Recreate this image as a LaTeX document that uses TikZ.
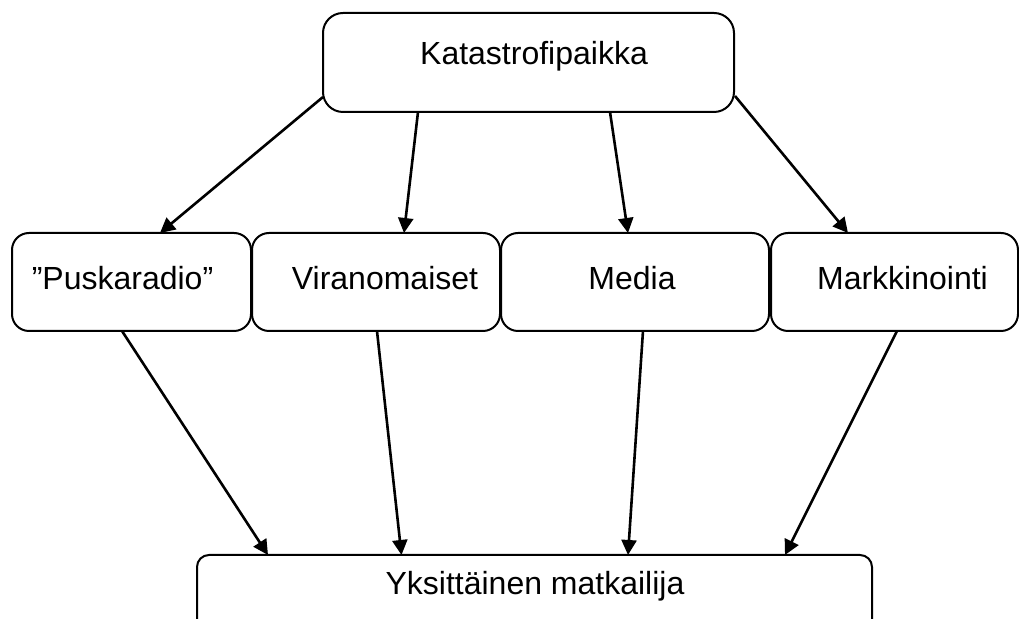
\documentclass[tikz,border=0pt]{standalone}
\usepackage{fontspec}
\setmainfont{Liberation Sans}
\usetikzlibrary{calc,arrows.meta}
\begin{document}
\begin{tikzpicture}[x=0.5pt,y=-0.5pt,
  box/.style={draw=black,line width=1pt,rounded corners=8.5pt,inner sep=0pt,outer sep=0pt,minimum height=49pt},
  lbl/.style={anchor=base,inner sep=0pt,font=\fontsize{16pt}{19pt}\selectfont},
  conn/.style={line width=1.3pt,-{Triangle[length=7.5pt,width=7.5pt]}}]
\useasboundingbox (0,0) rectangle (1019,619);
\clip (0,0) rectangle (1019,619);
\node[box,minimum width=205.5pt,minimum height=49.5pt,rounded corners=10pt] (top) at (528.5,62.5) {};
\node[box,minimum width=119.5pt] (pusk) at (131.5,282) {};
\node[box,minimum width=124pt] (viran) at (376,282) {};
\node[box,minimum width=134pt] (media) at (635,282) {};
\node[box,minimum width=123.5pt] (mark) at (894.5,282) {};
\node[box,minimum width=337.5pt,minimum height=55pt,rounded corners=6pt] (bot) at (534.5,610) {};
\node[lbl] (ttop) at (534,65) {Katastrofipaikka};
\node[lbl] (tpusk) at (122.5,290) {”Puskaradio”};
\node[lbl] (tviran) at (385,290) {Viranomaiset};
\node[lbl] (tmedia) at (632,290) {Media};
\node[lbl] (tmark) at (902.5,290) {Markkinointi};
\node[lbl] (tbot) at (535,595) {Yksittäinen matkailija};
\draw[conn] ($(top.south west)+(0,-15)$) -- ($(pusk.north)+(28.5,0)$);
\draw[conn] ($(top.south)+(-110.5,0)$) -- ($(viran.north)+(28,0)$);
\draw[conn] ($(top.south)+(81.5,0)$) -- ($(media.north)+(-7,0)$);
\draw[conn] ($(top.south east)+(1,-16)$) -- ($(mark.north)+(-46.5,0)$);
\draw[conn] ($(pusk.south)+(-9.5,0)$) -- ($(bot.north)+(-266.5,0)$);
\draw[conn] ($(viran.south)+(1,0)$) -- ($(bot.north)+(-133,0)$);
\draw[conn] ($(media.south)+(8,0)$) -- ($(bot.north)+(93.5,0)$);
\draw[conn] ($(mark.south)+(2.5,0)$) -- ($(bot.north)+(250.5,0)$);
\end{tikzpicture}
\end{document}
